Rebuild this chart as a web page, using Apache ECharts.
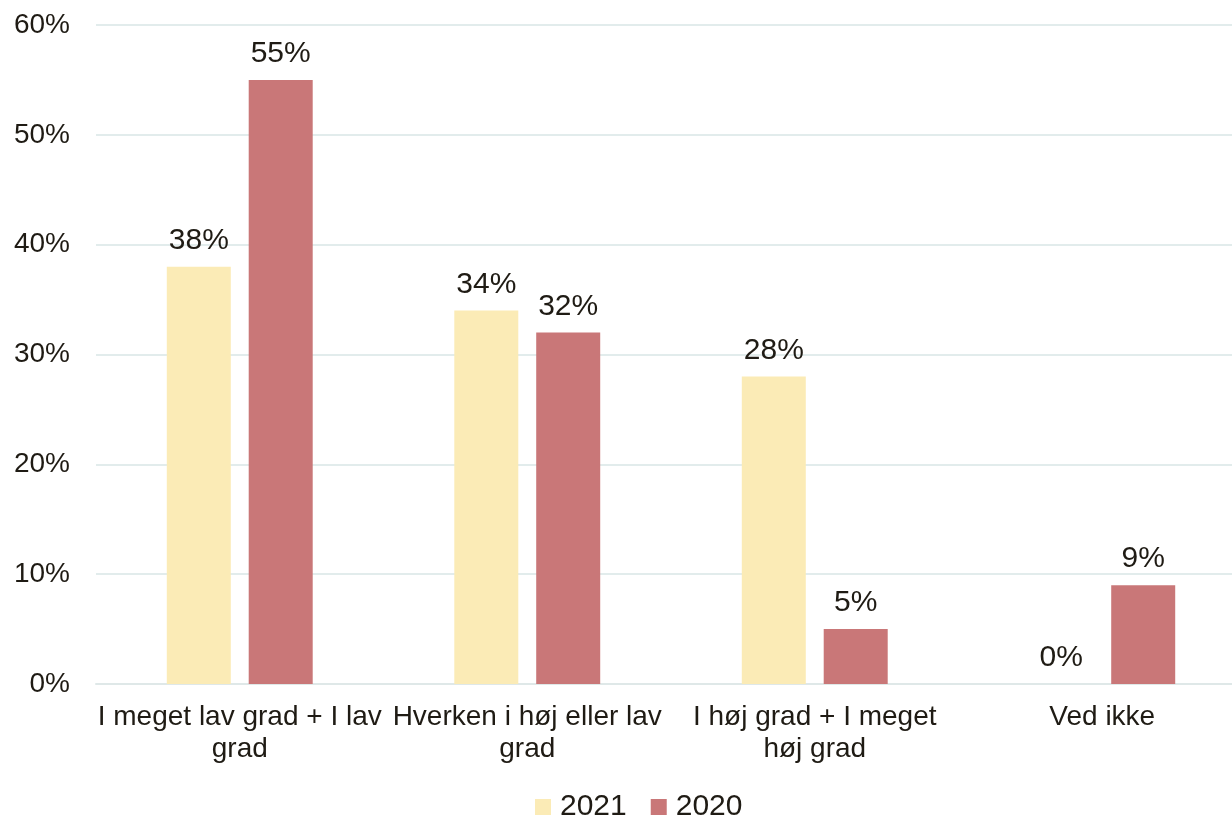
<!DOCTYPE html>
<html>
<head>
<meta charset="utf-8">
<style>
  html, body { margin: 0; padding: 0; background: #ffffff; }
  #chart { width: 1232px; height: 817px; }
</style>
<script src="https://cdn.jsdelivr.net/npm/echarts@6/dist/echarts.min.js"></script>
</head>
<body>
<div id="chart"></div>
<script>
// Answer categories (with line breaks as shown under the axis)
const categories = [
  'I meget lav grad + I lav\ngrad',
  'Hverken i høj eller lav\ngrad',
  'I høj grad + I meget\nhøj grad',
  'Ved ikke'
];
// Share of respondents, percent
const values2021 = [38, 34, 28, 0];
const values2020 = [55, 32, 5, 9];
const seriesNames = ['2021', '2020'];

const textColor = '#1f1b14';
const fontFamily = '"Liberation Sans", Arial, sans-serif';

const chart = echarts.init(document.getElementById('chart'));

const labelStyle = {
  show: true,
  position: 'top',
  distance: 11,
  formatter: p => p.value + '%',
  color: textColor,
  fontSize: 30,
  fontFamily: fontFamily
};

chart.setOption({
  animation: false,
  // plot area runs slightly past the right edge of the canvas
  grid: {
    left: 96,
    right: -14,
    top: 25,
    bottom: 133,
    outerBoundsMode: 'none'
  },
  legend: {
    top: 787,
    left: 530,
    itemWidth: 16,
    itemHeight: 16,
    itemGap: 24,
    icon: 'rect',
    textStyle: {
      color: textColor,
      fontSize: 30,
      fontFamily: fontFamily,
      padding: [0, 0, 0, 4]
    },
    data: seriesNames
  },
  xAxis: {
    type: 'category',
    data: categories,
    axisLine: { lineStyle: { color: '#dfe8e8', width: 2 } },
    axisTick: { show: false },
    axisLabel: {
      color: textColor,
      fontSize: 28,
      fontFamily: fontFamily,
      lineHeight: 32,
      margin: 17,
      interval: 0
    }
  },
  yAxis: {
    type: 'value',
    min: 0,
    max: 60,
    interval: 10,
    axisLine: { show: false },
    axisTick: { show: false },
    splitLine: { lineStyle: { color: '#e2ecec', width: 2 } },
    axisLabel: {
      formatter: v => v + '%',
      color: textColor,
      fontSize: 28,
      fontFamily: fontFamily,
      margin: 26
    }
  },
  series: [
    {
      name: seriesNames[0],
      type: 'bar',
      data: values2021,
      barWidth: 64,
      barGap: '28%',
      itemStyle: { color: '#fbebb6' },
      label: labelStyle
    },
    {
      name: seriesNames[1],
      type: 'bar',
      data: values2020,
      barWidth: 64,
      itemStyle: { color: '#c97778' },
      label: labelStyle
    }
  ]
});
</script>
</body>
</html>
